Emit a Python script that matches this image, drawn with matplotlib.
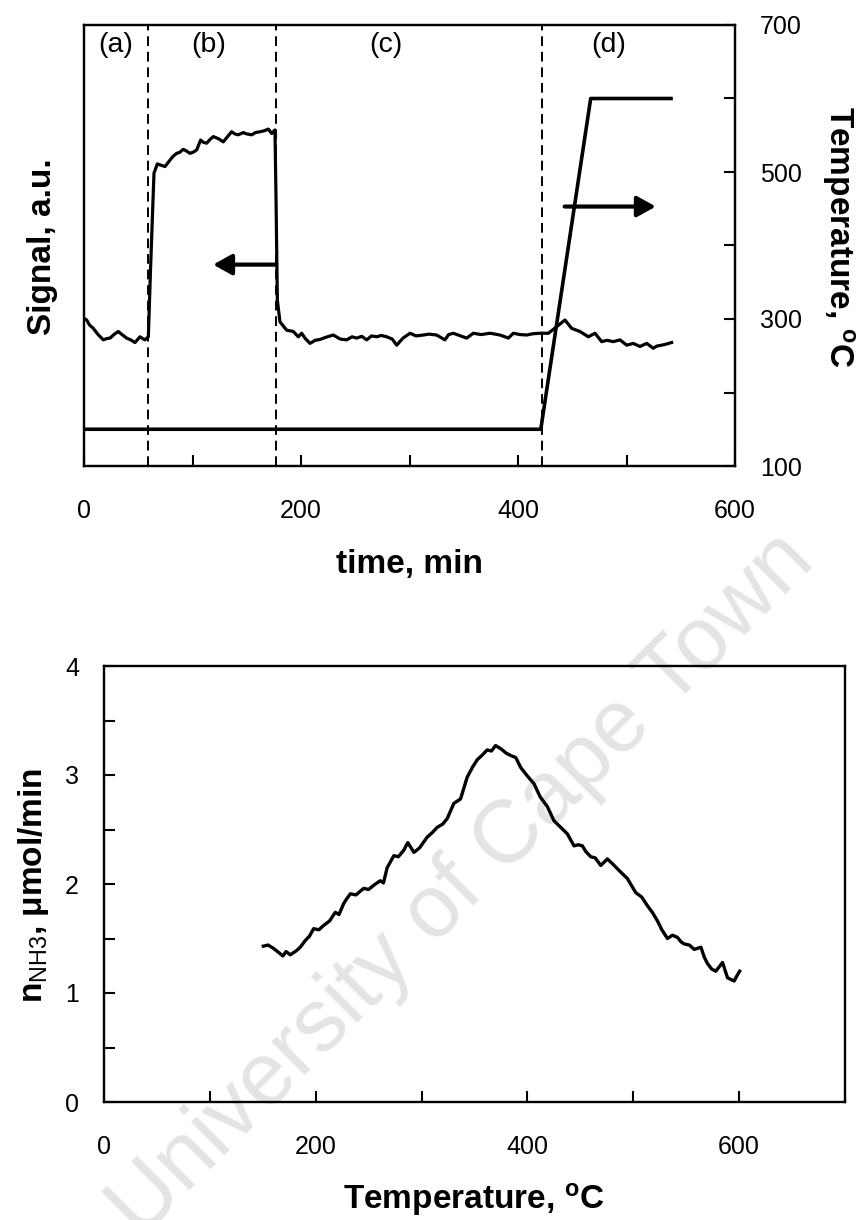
import numpy as np
import matplotlib
matplotlib.use('Agg')
import matplotlib.pyplot as plt

plt.rcParams['font.family'] = ['Liberation Sans', 'DejaVu Sans']
plt.rcParams['mathtext.fontset'] = 'custom'
plt.rcParams['mathtext.rm'] = 'Liberation Sans'
plt.rcParams['mathtext.bf'] = 'Liberation Sans:bold'
plt.rcParams['mathtext.it'] = 'Liberation Sans:italic'

# --- top panel: MS signal and oven temperature vs time ---
signal_time = [0.5, 2.5, 5, 8.6, 13, 17.8, 21, 24, 28, 31.6, 35, 39.3, 43, 47, 51.6, 54, 56.2,
               59.3, 61.4, 64.5, 67.6, 71, 74.7, 79, 82, 85.4, 88, 91.5, 94, 97.7, 101,
               103.9, 107.5, 110, 113, 116, 119.2, 124, 128.4, 132, 136.1, 139, 142.2,
               146.8, 150, 154.6, 158, 162.2, 166, 169.9, 173, 176, 177, 178.2, 180.6,
               186.8, 192.9, 197.5, 200.6, 204, 208.3, 213, 217.5, 223, 229.8, 236, 242.1,
               247, 251.3, 256, 260.6, 265, 269.8, 274, 279, 284, 288.2, 294, 300.5, 306,
               312.7, 318, 325, 332.7, 336, 340.4, 346, 352.7, 358.8, 366, 374.2, 379,
               383.4, 391.1, 395.7, 402, 408, 414, 420.3, 428, 435.7, 443.3, 449.5, 457.1,
               464.8, 471, 477.1, 482, 487.8, 494, 500.2, 506.3, 512.4, 518.6, 524.7, 528,
               532.4, 536, 541.6]
signal_value = [33.4, 33.1, 32.0, 31.2, 29.8, 28.6, 28.9, 29.0, 29.9, 30.5, 29.8, 29.0, 28.6,
                28.0, 29.3, 28.9, 28.6, 29.3, 45.2, 66.4, 68.5, 68.2, 67.9, 69.3, 70.2,
                70.9, 71.1, 71.8, 71.5, 70.9, 71.2, 71.7, 73.9, 73.4, 73.2, 74.0, 74.7,
                74.2, 73.5, 74.6, 75.8, 75.3, 75.1, 75.6, 75.3, 75.1, 75.6, 75.8, 76.0,
                76.4, 75.4, 76.2, 60.3, 37.6, 32.7, 30.8, 30.5, 29.3, 30.1, 28.9, 27.8,
                28.5, 28.7, 29.2, 29.7, 28.8, 28.6, 29.3, 29.0, 29.4, 28.6, 29.5, 29.3,
                29.6, 29.3, 28.8, 27.4, 29.0, 30.1, 29.5, 29.7, 29.9, 29.7, 28.6, 29.8,
                30.1, 29.6, 29.0, 30.1, 29.8, 30.1, 29.9, 29.7, 29.0, 30.1, 29.8, 29.7,
                30.0, 30.1, 30.1, 31.6, 33.1, 31.2, 30.5, 29.3, 30.1, 28.2, 28.5, 28.2,
                28.6, 27.4, 27.8, 27.1, 27.8, 26.7, 27.2, 27.4, 27.6, 28.0]

temp_time = [0, 421, 467, 541]
temp_value = [150, 150, 600, 600]

step_bounds = [59, 177, 422]
step_names = ['(a)', '(b)', '(c)', '(d)']
step_label_x = [29, 115, 278, 484]

# --- bottom panel: NH3 desorption rate vs temperature ---
tpd_temp = [150.5, 155, 160, 166.5, 169, 172, 176, 179, 182, 185.4, 190, 194, 198, 203,
            207.5, 213, 218.5, 222, 226.4, 229, 232.7, 238, 245.3, 250, 255, 261, 264,
            267.5, 273.8, 278, 283.2, 287, 292.7, 298, 305.3, 310, 314.8, 320, 324.2,
            330.5, 336.8, 343.1, 348, 352.6, 357, 362, 366, 369.9, 375, 380, 384, 389,
            393.6, 400, 406.2, 412, 418.8, 425.1, 431.4, 437.7, 444, 448, 451.9, 455,
            459.8, 464, 469.3, 475.5, 481, 487, 494.4, 502.4, 508, 513.4, 518, 522.9,
            527, 532.3, 537, 541.8, 545, 548.1, 553, 557.5, 563.9, 567, 570.1, 574,
            578, 584.3, 587, 589, 593, 595.3, 598, 600.5]
tpd_rate = [1.43, 1.44, 1.41, 1.36, 1.34, 1.38, 1.35, 1.37, 1.39, 1.42, 1.48, 1.52, 1.59, 1.58,
            1.62, 1.66, 1.74, 1.72, 1.82, 1.86, 1.91, 1.90, 1.96, 1.95, 1.99, 2.03, 2.01,
            2.15, 2.26, 2.25, 2.31, 2.38, 2.29, 2.33, 2.43, 2.47, 2.52, 2.55, 2.60,
            2.74, 2.78, 2.98, 3.07, 3.14, 3.18, 3.23, 3.22, 3.27, 3.24, 3.20, 3.18, 3.16,
            3.07, 2.99, 2.92, 2.80, 2.71, 2.58, 2.52, 2.46, 2.35, 2.36, 2.35, 2.30,
            2.25, 2.24, 2.17, 2.23, 2.18, 2.12, 2.05, 1.92, 1.88, 1.80, 1.74, 1.66,
            1.58, 1.50, 1.53, 1.51, 1.47, 1.45, 1.44, 1.40, 1.42, 1.33, 1.27, 1.22,
            1.20, 1.28, 1.20, 1.14, 1.12, 1.11, 1.16, 1.20]

fig = plt.figure(figsize=(8.56, 12.2), dpi=100)

# top panel
ax = fig.add_axes([84 / 856, 1 - 466 / 1220, 651 / 856, 441 / 1220])
ax.set_facecolor('none')
ax.plot(signal_time, signal_value, color='black', lw=2.3, solid_joinstyle='round')
ax.set_xlim(0, 600)
ax.set_ylim(0, 100)
ax.set_yticks([])
ax.set_xticks(np.arange(0, 601, 100))
ax.set_xticklabels(['0', '', '200', '', '400', '', '600'])
ax.tick_params(axis='x', direction='in', length=8, width=1.5, labelsize=18, pad=24)
for x in step_bounds:
    ax.axvline(x, color='black', lw=1.4, linestyle=(0, (5, 3)))
for name, x in zip(step_names, step_label_x):
    ax.text(x, 95.5, name, ha='center', va='center', fontsize=20.5)

ax2 = ax.twinx()
ax2.plot(temp_time, temp_value, color='black', lw=2.6)
ax2.set_ylim(100, 700)
ax2.set_yticks(np.arange(100, 701, 100))
ax2.set_yticklabels(['100', '', '300', '', '500', '', '700'])
ax2.tick_params(axis='y', direction='in', length=8, width=1.5, labelsize=18, pad=18)

# arrows pointing to the matching axis
arrow = dict(arrowstyle='-|>,head_length=0.45,head_width=0.25', lw=3, color='black',
             mutation_scale=25, shrinkA=0, shrinkB=0)
ax2.annotate('', xy=(119, 374), xytext=(177, 374), arrowprops=arrow)
ax2.annotate('', xy=(527, 453), xytext=(443, 453), arrowprops=arrow)

for a in (ax, ax2):
    for s in a.spines.values():
        s.set_linewidth(1.6)

fig.text(43 / 856, 1 - 247 / 1220, 'Signal, a.u.', rotation=90, ha='center', va='center',
         fontsize=24, fontweight='bold')
fig.text(838 / 856, 1 - 237 / 1220, r'Temperature, $^\mathbf{o}$C', rotation=270,
         ha='center', va='center', fontsize=24, fontweight='bold')
fig.text(409 / 856, 1 - 565 / 1220, 'time, min', ha='center', va='center',
         fontsize=24, fontweight='bold')

# bottom panel
bx = fig.add_axes([104 / 856, 1 - 1102 / 1220, 741 / 856, 436 / 1220])
bx.set_facecolor('none')
bx.plot(tpd_temp, tpd_rate, color='black', lw=2.4, solid_joinstyle='round')
bx.set_xlim(0, 700)
bx.set_ylim(0, 4)
bx.set_xticks(np.arange(0, 701, 100))
bx.set_xticklabels(['0', '', '200', '', '400', '', '600', ''])
bx.set_yticks(np.arange(0, 4.01, 0.5))
bx.set_yticklabels(['0', '', '1', '', '2', '', '3', '', '4'])
bx.tick_params(direction='in', length=8, width=1.5, labelsize=18)
bx.tick_params(axis='x', pad=24)
bx.tick_params(axis='y', pad=18)
for s in bx.spines.values():
    s.set_linewidth(1.7)

fig.text(34 / 856, 1 - 885 / 1220, r'n$_\mathrm{NH3}$, μmol/min', rotation=90,
         ha='center', va='center', fontsize=24, fontweight='bold')
fig.text(474 / 856, 1 - 1200 / 1220, r'Temperature, $^\mathbf{o}$C', ha='center',
         va='center', fontsize=24, fontweight='bold')

# faint watermark behind everything
fig.text(462 / 856, 1 - 885 / 1220, 'University of Cape Town', rotation=45,
         rotation_mode='anchor', ha='center', va='center', fontsize=64,
         color='#e4e4e4', zorder=-1)

fig.savefig('out.png', dpi=100)
